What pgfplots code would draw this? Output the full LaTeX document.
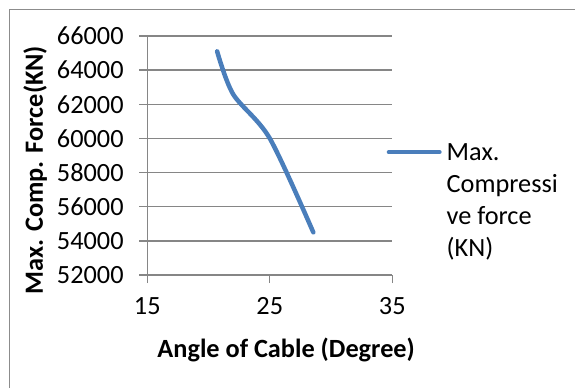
\documentclass[border=0pt]{standalone}
\usepackage{fontspec}
\setmainfont{Carlito}
\usepackage{pgfplots}
\pgfplotsset{compat=1.18}

\definecolor{seriesblue}{RGB}{74,126,187}
\definecolor{gridgray}{RGB}{134,134,134}
\definecolor{framegray}{RGB}{140,140,140}

\newcommand{\chartfont}{\fontsize{26.3bp}{31.5bp}\selectfont}

\begin{document}
\begin{tikzpicture}[x=1bp,y=1bp]
\path[use as bounding box] (0,0) rectangle (575,388);
% chart area frame (top and left edges)
\draw[framegray, line width=1.4bp] (9.5,0) -- (9.5,378.5) -- (575,378.5);
\begin{axis}[
  at={(147.3bp,113bp)}, anchor=south west,
  scale only axis, width=245bp, height=239bp,
  xmin=15, xmax=35, ymin=52000, ymax=66000,
  xtick={15,25,35},
  ytick={52000,54000,...,66000},
  scaled y ticks=false,
  axis x line*=bottom, axis y line*=left,
  axis line style={gridgray, line width=1.3bp, -},
  ymajorgrids, grid style={gridgray, line width=1.3bp},
  tick align=outside, major tick length=8bp,
  tick style={gridgray, line width=1.3bp},
  /pgf/number format/fixed,
  /pgf/number format/precision=0,
  /pgf/number format/1000 sep={},
  /pgf/number format/assume math mode=true,
  font=\chartfont,
  yticklabel style={inner sep=0pt, xshift=-15.5bp},
  xticklabel style={inner sep=0pt, yshift=-14bp},
  xlabel={\bfseries Angle of Cable (Degree)},
  ylabel={\bfseries Max. Comp. Force(KN)},
  xlabel style={at={(axis description cs:0.567,-0.314)}, anchor=center, inner sep=0pt},
  ylabel style={at={(axis description cs:-0.458,0.439)}, anchor=center, inner sep=0pt},
  % legend text wraps over four rows, the sample line sits on the first
  legend style={at={(axis description cs:0.977,0.5686)}, anchor=north west,
    draw=none, fill=none, inner sep=0pt, outer sep=0pt, font=\chartfont,
    nodes={inner sep=0pt, text height=21bp, text depth=5bp},
    cells={anchor=west}, column sep=5bp, row sep=6bp},
  legend image code/.code={%
    \draw[#1, line width=4.5bp, line cap=round] (0bp,0bp) -- (50.5bp,0bp);},
]
\addplot[seriesblue, line width=4.5bp, line cap=round, smooth, tension=0.5] coordinates {
  (20.7,65100) (22,62600) (25,60000) (28.55,54500)
};
\addlegendentry{Max.}
\addlegendimage{empty legend}
\addlegendentry{Compressi}
\addlegendimage{empty legend}
\addlegendentry{ve force}
\addlegendimage{empty legend}
\addlegendentry{(KN)}
\end{axis}
\end{tikzpicture}
\end{document}
